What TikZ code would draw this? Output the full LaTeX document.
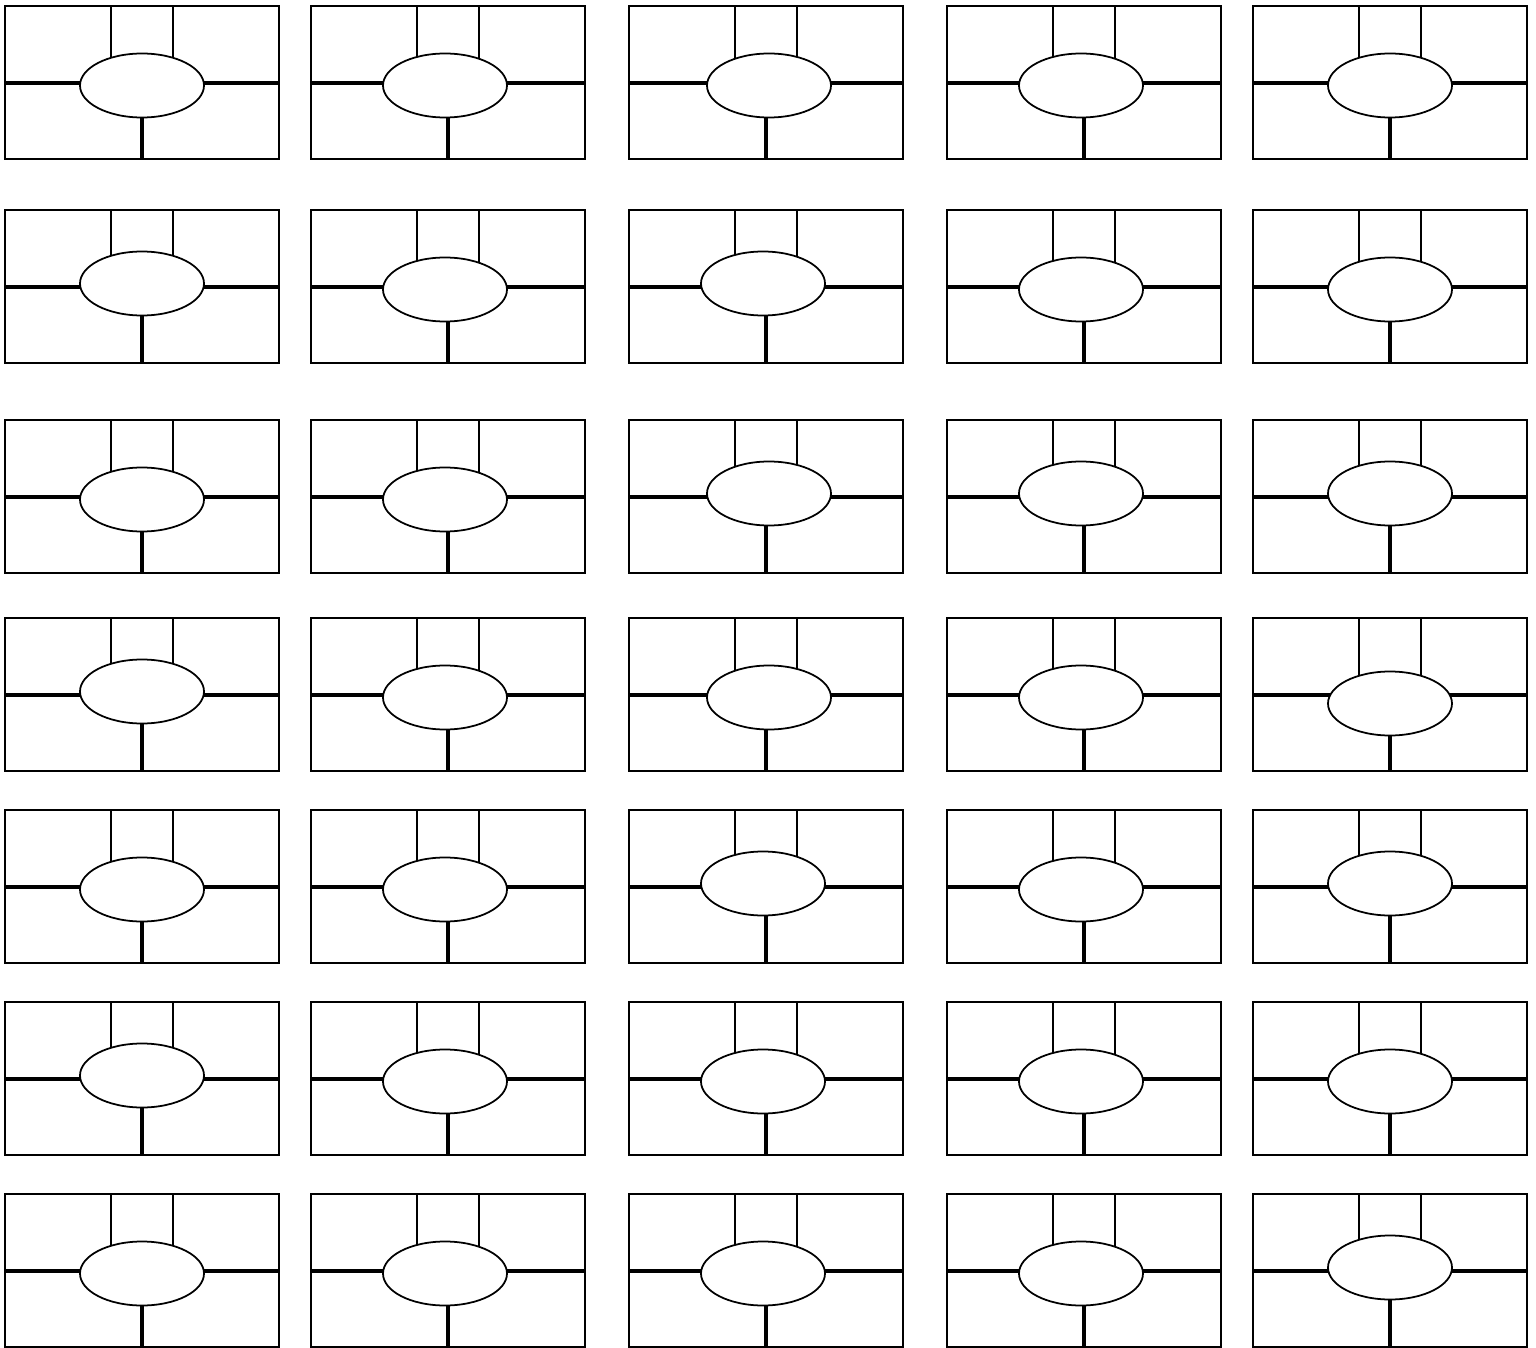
\documentclass[tikz,border=0pt]{standalone}
\begin{document}
\begin{tikzpicture}[x=0.02cm, y=-0.02cm,
    frame/.style={line width=1.25pt},
    thinrule/.style={line width=0.95pt},
    thickrule/.style={line width=2.1pt},
    hub/.style={line width=1pt, fill=white}]
\useasboundingbox (0,0) rectangle (1536,1348);
% box left / box top / ellipse centre (relative to the box)
\foreach \bx/\by/\ex/\ey in {
    5/6/137/79.5, 311/6/134/79.5, 629/6/140/79.5, 947/6/134/79.5, 1253/6/137/79.5,
    5/210/137/73.5, 311/210/134/79.5, 629/210/134/73.5, 947/210/134/79.5, 1253/210/137/79.5,
    5/420/137/79.5, 311/420/134/79.5, 629/420/140/73.5, 947/420/134/73.5, 1253/420/137/73.5,
    5/618/137/73.5, 311/618/134/79.5, 629/618/140/79.5, 947/618/134/79.5, 1253/618/137/85.5,
    5/810/137/79.5, 311/810/134/79.5, 629/810/134/73.5, 947/810/134/79.5, 1253/810/137/73.5,
    5/1002/137/73.5, 311/1002/134/79.5, 629/1002/134/79.5, 947/1002/134/79.5, 1253/1002/137/79.5,
    5/1194/137/79.5, 311/1194/134/79.5, 629/1194/134/79.5, 947/1194/134/79.5, 1253/1194/137/73.5}{
    \draw[thinrule] (\bx+106,\by) -- (\bx+106,\by+\ey);
    \draw[thinrule] (\bx+168,\by) -- (\bx+168,\by+\ey);
    \draw[thickrule] (\bx,\by+77) -- (\bx+274,\by+77);
    \draw[thickrule] (\bx+137,\by+\ey) -- (\bx+137,\by+153);
    \filldraw[hub] (\bx+\ex,\by+\ey) ellipse (62 and 32);
    \draw[frame] (\bx,\by) rectangle (\bx+274,\by+153);
}
\end{tikzpicture}
\end{document}
